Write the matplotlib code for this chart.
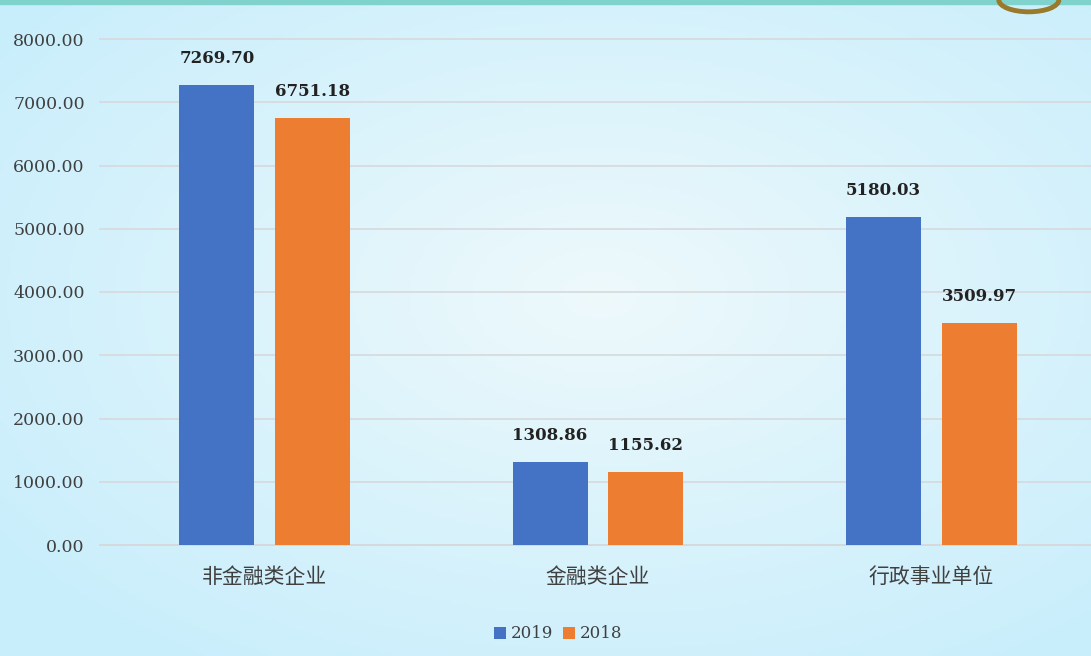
import numpy as np
import matplotlib
matplotlib.use("Agg")
import matplotlib.pyplot as plt
from matplotlib.colors import LinearSegmentedColormap
from matplotlib.patches import Ellipse, Rectangle

plt.rcParams['font.family'] = ['Noto Sans CJK SC', 'DejaVu Sans']

categories = ['非金融类企业', '金融类企业', '行政事业单位']
series_names = ['2019', '2018']
values_2019 = [7269.70, 1308.86, 5180.03]
values_2018 = [6751.18, 1155.62, 3509.97]
y_ticks = [0, 1000, 2000, 3000, 4000, 5000, 6000, 7000, 8000]

blue = '#4472C4'
orange = '#ED7D31'
num_font = ['DejaVu Serif']

fig = plt.figure(figsize=(10.91, 6.56), dpi=100)

# background gradient
bg = fig.add_axes([0, 0, 1, 1], zorder=-10)
gx, gy = np.meshgrid(np.linspace(0, 1, 300), np.linspace(0, 1, 200))
r = np.sqrt(((gx - 0.55) / 0.7) ** 2 + ((gy - 0.55) / 0.7) ** 2)
cmap = LinearSegmentedColormap.from_list('bg', ['#eef9fc', '#daf3fb', '#c8eefb'])
bg.imshow(np.clip(r, 0, 1), cmap=cmap, aspect='auto', extent=[0, 1, 0, 1], origin='lower', vmin=0, vmax=1)
bg.add_patch(Rectangle((0, 0.994), 1, 0.01, color='#7fd3cc', transform=bg.transAxes))
bg.add_patch(Ellipse((0.943, 1.0), 0.055, 0.036, facecolor='none', edgecolor='#9a7a2a', lw=3.5))
bg.set_xlim(0, 1)
bg.set_ylim(0, 1)
bg.axis('off')

ax = fig.add_axes([100 / 1091, 111 / 656, 991 / 1091, 506 / 656])
ax.set_facecolor('none')

x = np.arange(len(categories))
w = 0.225
off = 0.144
b1 = ax.bar(x - off, values_2019, w, color=blue, label=series_names[0], zorder=3)
b2 = ax.bar(x + off, values_2018, w, color=orange, label=series_names[1], zorder=3)

for bars, vals in [(b1, values_2019), (b2, values_2018)]:
    for rect, v in zip(bars, vals):
        ax.annotate(f'{v:.2f}', (rect.get_x() + rect.get_width() / 2, v),
                    xytext=(0, 13), textcoords='offset points', ha='center', va='bottom',
                    fontsize=12, fontweight='bold', color='#222222', family=num_font)

ax.set_xlim(-0.495, 2.48)
ax.set_ylim(0, 8000)
ax.set_yticks(y_ticks)
ax.set_yticklabels([f'{t:.2f}' for t in y_ticks], family=num_font, fontsize=12.5, color='#404040')
ax.set_xticks(x)
ax.set_xticklabels(categories, fontsize=15, color='#404040', fontweight='light')
ax.tick_params(axis='y', length=0, pad=11)
ax.tick_params(axis='x', length=0, pad=15)
ax.grid(axis='y', color='#d6d9dc', linewidth=1.2, zorder=0)
for ln in ax.get_ygridlines():
    ln.set_clip_on(False)
for s in ['top', 'right', 'left']:
    ax.spines[s].set_visible(False)
ax.spines['bottom'].set_color('#d6d9dc')
ax.spines['bottom'].set_linewidth(1.2)

leg = fig.legend(loc='center', bbox_to_anchor=(558 / 1091, 1 - 634 / 656), ncol=2, frameon=False,
                 handlelength=0.7, handleheight=0.7, handletextpad=0.3, columnspacing=0.6,
                 prop={'family': num_font, 'size': 12})
for t in leg.get_texts():
    t.set_color('#404040')

fig.savefig('out.png', dpi=100)
